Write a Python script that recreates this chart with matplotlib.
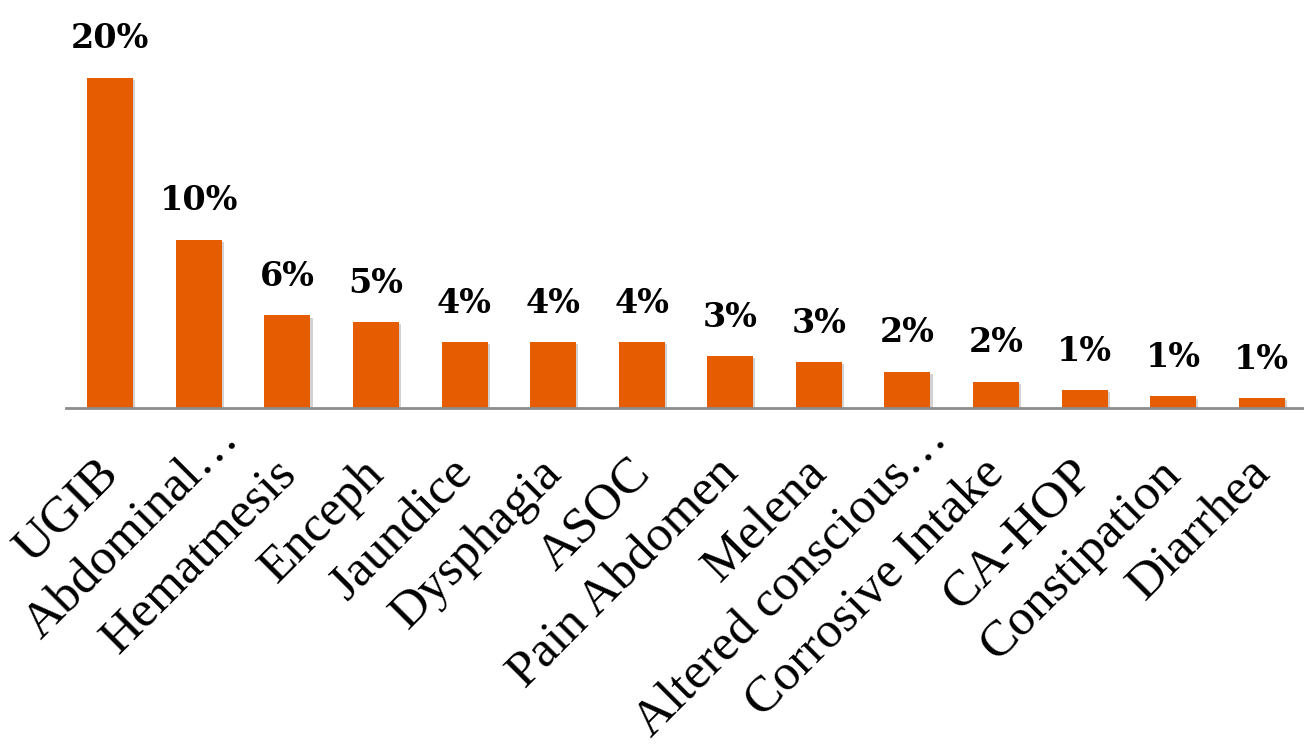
import matplotlib
matplotlib.use('Agg')
import numpy as np
from matplotlib import pyplot as plt
from matplotlib import patheffects as pe
from matplotlib import transforms as mtrans

categories = ['UGIB', 'Abdominal…', 'Hematmesis', 'Enceph', 'Jaundice', 'Dysphagia', 'ASOC',
              'Pain Abdomen', 'Melena', 'Altered conscious…', 'Corrosive Intake', 'CA-HOP',
              'Constipation', 'Diarrhea']
values = [20.0, 10.2, 5.6, 5.2, 4.0, 4.0, 4.0, 3.15, 2.8, 2.2, 1.6, 1.1, 0.7, 0.6]
labels = ['20%', '10%', '6%', '5%', '4%', '4%', '4%', '3%', '3%', '2%', '2%', '1%', '1%', '1%']

bar_color = '#E65C00'

fig = plt.figure(figsize=(13.04, 7.5), dpi=100)
ax = fig.add_axes([66 / 1304, 342 / 750, 1240 / 1304, 408 / 750])

x = np.arange(len(categories))
bars = ax.bar(x, values, width=0.52, color=bar_color, zorder=2)
for b in bars:
    b.set_path_effects([pe.SimplePatchShadow(offset=(1.5, -1.5), shadow_rgbFace='gray', alpha=0.35),
                        pe.Normal()])

for xi, v, lab in zip(x, values, labels):
    ax.annotate(lab, (xi, v), xytext=(0, 21), textcoords='offset points',
                ha='center', va='baseline', fontsize=24, fontweight='bold',
                family='DejaVu Serif', color='black')

ax.set_xlim(-0.5, len(categories) - 0.5)
ax.set_ylim(0, 24.7)
ax.set_xticks(x)
ax.set_xticklabels(categories, rotation=45, ha='right', va='baseline', rotation_mode='anchor',
                   fontsize=37, family='Liberation Serif')
ax.tick_params(axis='x', length=0, pad=0)

# shift labels so their baseline end sits just right of / below each bar
for lab in ax.get_xticklabels():
    if lab.get_text().endswith('…'):
        off = mtrans.ScaledTranslation(0.42, -0.33, fig.dpi_scale_trans)
    else:
        off = mtrans.ScaledTranslation(0.10, -0.67, fig.dpi_scale_trans)
    lab.set_transform(lab.get_transform() + off)

ax.set_yticks([])
for s in ['top', 'right', 'left']:
    ax.spines[s].set_visible(False)
ax.spines['bottom'].set_color('#8C8C8C')
ax.spines['bottom'].set_linewidth(2)
ax.spines['bottom'].set_zorder(3)

fig.savefig('out.png', dpi=100)
